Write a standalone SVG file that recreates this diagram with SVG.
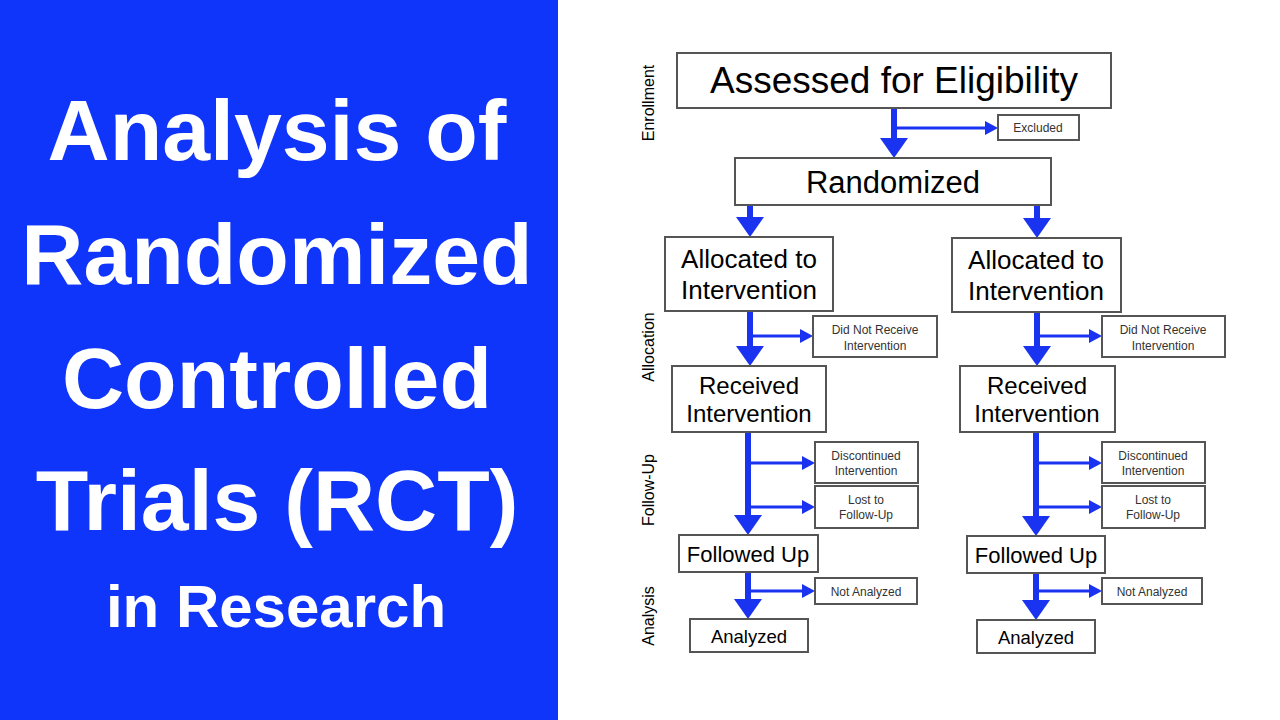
<svg xmlns="http://www.w3.org/2000/svg" width="1280" height="720" viewBox="0 0 1280 720">
<defs>
<style>
.t{font-family:"Liberation Sans",Arial,sans-serif;fill:#000;text-anchor:middle}
.s{font-family:"Liberation Sans",Arial,sans-serif;fill:#333;text-anchor:middle;font-size:12px}
.b{fill:#fff;stroke:#555;stroke-width:2}
.m{stroke:#1a33f0;stroke-width:6;fill:none}
.n{stroke:#1a33f0;stroke-width:3;fill:none}
.h{fill:#1a33f0}
.title{font-family:"Liberation Sans",Arial,sans-serif;font-weight:bold;fill:#fff;text-anchor:middle}
</style>
</defs>
<rect width="1280" height="720" fill="#fff"/>
<rect x="0" y="0" width="558" height="720" fill="#1035fa"/>
<g class="title">
<text x="277" y="160" font-size="86">Analysis of</text>
<text x="277" y="284" font-size="86">Randomized</text>
<text x="277" y="408" font-size="86">Controlled</text>
<text x="277" y="530" font-size="86">Trials (RCT)</text>
<text x="276" y="627" font-size="60">in Research</text>
</g>
<g class="t" font-size="16">
<text transform="translate(654,103) rotate(-90)">Enrollment</text>
<text transform="translate(654,347) rotate(-90)">Allocation</text>
<text transform="translate(654,490) rotate(-90)">Follow-Up</text>
<text transform="translate(654,616) rotate(-90)">Analysis</text>
</g>
<g id="connectors">
<path class="m" d="M894 108V145"/><path class="h" d="M880 138h28l-14 20z"/>
<path class="n" d="M894 128H985"/><path class="h" d="M985 121l13 7-13 7z"/>
<path class="m" d="M750 205V224"/><path class="h" d="M736 217h28l-14 20z"/>
<path class="m" d="M1037 205V225"/><path class="h" d="M1023 218h28l-14 20z"/>
<path class="m" d="M750 311V353"/><path class="h" d="M736 346h28l-14 20z"/>
<path class="n" d="M750 336H800"/><path class="h" d="M800 329l13 7-13 7z"/>
<path class="m" d="M1037 312V353"/><path class="h" d="M1023 346h28l-14 20z"/>
<path class="n" d="M1037 336H1089"/><path class="h" d="M1089 329l13 7-13 7z"/>
<path class="m" d="M748 432V522"/><path class="h" d="M734 515h28l-14 20z"/>
<path class="n" d="M748 463H802"/><path class="h" d="M802 456l13 7-13 7z"/>
<path class="n" d="M748 507H802"/><path class="h" d="M802 500l13 7-13 7z"/>
<path class="m" d="M1036 432V523"/><path class="h" d="M1022 516h28l-14 20z"/>
<path class="n" d="M1036 463H1089"/><path class="h" d="M1089 456l13 7-13 7z"/>
<path class="n" d="M1036 507H1089"/><path class="h" d="M1089 500l13 7-13 7z"/>
<path class="m" d="M748 572V606"/><path class="h" d="M734 599h28l-14 20z"/>
<path class="n" d="M748 591H802"/><path class="h" d="M802 584l13 7-13 7z"/>
<path class="m" d="M1036 573V607"/><path class="h" d="M1022 600h28l-14 20z"/>
<path class="n" d="M1036 591H1089"/><path class="h" d="M1089 584l13 7-13 7z"/>
</g>
<g id="assessed"><rect class="b" x="677" y="53" width="434" height="55"/><text class="t" x="894" y="93" font-size="37">Assessed for Eligibility</text></g>
<g id="excluded"><rect class="b" x="998" y="115" width="81" height="25"/><text class="s" x="1038" y="132">Excluded</text></g>
<g id="randomized"><rect class="b" x="735" y="158" width="316" height="47"/><text class="t" x="893" y="193" font-size="31">Randomized</text></g>
<g id="allocL"><rect class="b" x="665" y="237" width="168" height="74"/><text class="t" x="749" y="268" font-size="26">Allocated to</text><text class="t" x="749" y="299" font-size="26">Intervention</text></g>
<g id="allocR"><rect class="b" x="952" y="238" width="169" height="74"/><text class="t" x="1036" y="269" font-size="26">Allocated to</text><text class="t" x="1036" y="300" font-size="26">Intervention</text></g>
<g id="dnrL"><rect class="b" x="813" y="316" width="124" height="41"/><text class="s" x="875" y="334">Did Not Receive</text><text class="s" x="875" y="350">Intervention</text></g>
<g id="dnrR"><rect class="b" x="1102" y="316" width="123" height="41"/><text class="s" x="1163" y="334">Did Not Receive</text><text class="s" x="1163" y="350">Intervention</text></g>
<g id="recL"><rect class="b" x="672" y="366" width="154" height="66"/><text class="t" x="749" y="394" font-size="24">Received</text><text class="t" x="749" y="422" font-size="24">Intervention</text></g>
<g id="recR"><rect class="b" x="960" y="366" width="155" height="66"/><text class="t" x="1037" y="394" font-size="24">Received</text><text class="t" x="1037" y="422" font-size="24">Intervention</text></g>
<g id="discL"><rect class="b" x="815" y="442" width="103" height="41"/><text class="s" x="866" y="460">Discontinued</text><text class="s" x="866" y="475">Intervention</text></g>
<g id="discR"><rect class="b" x="1102" y="442" width="103" height="41"/><text class="s" x="1153" y="460">Discontinued</text><text class="s" x="1153" y="475">Intervention</text></g>
<g id="lostL"><rect class="b" x="815" y="486" width="103" height="42"/><text class="s" x="866" y="504">Lost to</text><text class="s" x="866" y="519">Follow-Up</text></g>
<g id="lostR"><rect class="b" x="1102" y="486" width="103" height="42"/><text class="s" x="1153" y="504">Lost to</text><text class="s" x="1153" y="519">Follow-Up</text></g>
<g id="fuL"><rect class="b" x="679" y="535" width="139" height="37"/><text class="t" x="748" y="562" font-size="22">Followed Up</text></g>
<g id="fuR"><rect class="b" x="967" y="536" width="138" height="37"/><text class="t" x="1036" y="563" font-size="22">Followed Up</text></g>
<g id="naL"><rect class="b" x="815" y="578" width="102" height="26"/><text class="s" x="866" y="596">Not Analyzed</text></g>
<g id="naR"><rect class="b" x="1102" y="578" width="100" height="26"/><text class="s" x="1152" y="596">Not Analyzed</text></g>
<g id="anL"><rect class="b" x="690" y="619" width="118" height="33"/><text class="t" x="749" y="643" font-size="18.5">Analyzed</text></g>
<g id="anR"><rect class="b" x="977" y="620" width="118" height="33"/><text class="t" x="1036" y="644" font-size="18.5">Analyzed</text></g>
</svg>
